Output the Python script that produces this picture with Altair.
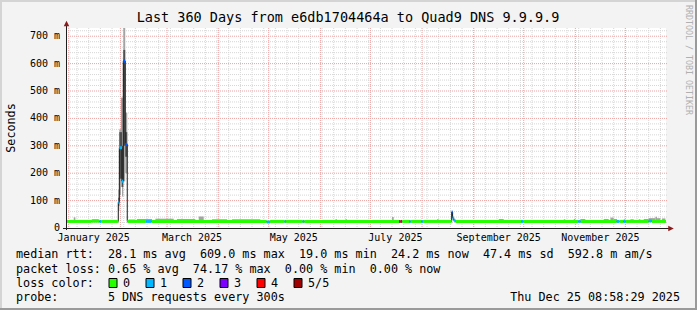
import altair as alt
import pandas as pd

FONT = "DejaVu Sans Mono"
L, T, W, H = 66, 28, 600, 200          # plot area origin/size in page pixels

t_start = "2024-12-30T08:58:29"
t_end = "2025-12-25T08:58:29"
y_top = 0.730

# ---------------- data ----------------
# median rtt step series (start time of each step, seconds, pings lost of 5)
med_time = [
    "2024-12-30T09:00", "2025-01-14T12:00", "2025-01-19T10:00", "2025-01-20T10:00",
    "2025-01-30T18:00", "2025-01-31T09:00", "2025-02-01T23:00", "2025-02-02T18:00",
    "2025-02-03T22:00", "2025-02-05T03:00", "2025-02-16T10:00", "2025-02-19T19:00",
    "2025-04-29T19:00", "2025-05-01T19:00", "2025-05-10T14:00", "2025-05-11T10:00",
    "2025-05-21T10:00", "2025-05-22T10:00", "2025-07-18T05:00", "2025-07-19T05:00",
    "2025-07-20T02:00", "2025-07-24T05:00", "2025-07-25T05:00", "2025-07-31T12:00",
    "2025-08-01T12:00", "2025-08-18T19:00", "2025-08-19T08:00", "2025-08-20T00:00",
    "2025-08-21T00:00", "2025-09-29T10:00", "2025-09-30T19:00", "2025-11-02T17:00",
    "2025-11-04T05:00", "2025-11-25T19:00", "2025-11-27T10:00", "2025-11-29T17:00",
    "2025-12-01T05:00", "2025-12-15T00:00", "2025-12-16T19:00",
]
med_value = [
    0.024, 0.025, 0.024, 0.024,
    0.094, 0.293, 0.171, 0.609,
    0.305, 0.024, 0.024, 0.024,
    0.022, 0.024, 0.024, 0.024,
    0.024, 0.024, 0.024, 0.024,
    0.024, 0.024, 0.024, 0.024,
    0.024, 0.058, 0.037, 0.028,
    0.024, 0.024, 0.024, 0.024,
    0.024, 0.024, 0.024, 0.024,
    0.024, 0.026, 0.024,
]
med_loss = [
    0, 0, 1, 0,
    1, 1, 1, 2,
    2, 0, 1, 0,
    1, 0, 1, 0,
    1, 0, 4, 3,
    0, 1, 0, 1,
    0, 2, 1, 1,
    0, 1, 0, 1,
    0, 1, 0, 1,
    0, 1, 0,
]

# smoke (spread of the pings)
smoke_from = [
    "2025-01-04", "2025-01-15", "2025-01-30T18:00", "2025-01-31T09:00", "2025-02-01T08:00",
    "2025-02-01T23:00", "2025-02-02T18:00", "2025-02-03T22:00", "2025-02-06", "2025-02-11",
    "2025-02-22", "2025-03-07", "2025-03-20", "2025-03-28", "2025-04-09",
    "2025-06-10", "2025-06-16", "2025-07-14", "2025-08-10", "2025-08-18T19:00",
    "2025-09-16", "2025-10-25", "2025-10-31", "2025-11-04", "2025-11-18",
    "2025-11-22", "2025-11-24", "2025-11-30", "2025-12-04", "2025-12-09",
    "2025-12-12", "2025-12-15", "2025-12-19", "2025-12-20", "2025-12-23",
]
smoke_to = [
    "2025-01-05", "2025-01-19", "2025-01-31T09:00", "2025-02-01T08:00", "2025-02-01T23:00",
    "2025-02-02T18:00", "2025-02-03T22:00", "2025-02-05T03:00", "2025-02-10", "2025-02-20",
    "2025-03-05", "2025-03-18", "2025-03-23", "2025-04-06", "2025-04-26",
    "2025-06-11", "2025-06-17", "2025-07-15", "2025-08-11", "2025-08-19T08:00",
    "2025-09-19", "2025-10-26", "2025-11-01", "2025-11-07", "2025-11-21",
    "2025-11-24", "2025-11-26", "2025-12-01", "2025-12-06", "2025-12-10",
    "2025-12-15", "2025-12-19", "2025-12-20", "2025-12-22", "2025-12-25",
]
smoke_low = [
    0.024, 0.024, 0.062, 0.120, 0.150,
    0.115, 0.170, 0.200, 0.024, 0.024,
    0.024, 0.024, 0.024, 0.024, 0.024,
    0.024, 0.024, 0.024, 0.024, 0.030,
    0.024, 0.024, 0.024, 0.024, 0.024,
    0.024, 0.024, 0.024, 0.024, 0.024,
    0.024, 0.024, 0.024, 0.024, 0.024,
]
smoke_high = [
    0.039, 0.032, 0.140, 0.360, 0.476,
    0.476, 0.730, 0.421, 0.031, 0.033,
    0.034, 0.033, 0.042, 0.032, 0.032,
    0.032, 0.032, 0.040, 0.032, 0.062,
    0.033, 0.032, 0.033, 0.033, 0.033,
    0.038, 0.033, 0.032, 0.032, 0.032,
    0.033, 0.036, 0.041, 0.036, 0.035,
]
# dense core of the smoke
core_from = ["2025-01-30T18:00", "2025-01-31T09:00", "2025-02-01T23:00", "2025-02-02T18:00", "2025-02-03T22:00"]
core_to = ["2025-01-31T09:00", "2025-02-01T23:00", "2025-02-02T18:00", "2025-02-03T22:00", "2025-02-05T03:00"]
core_low = [0.080, 0.180, 0.150, 0.300, 0.260]
core_high = [0.110, 0.350, 0.300, 0.650, 0.350]

loss_labels = ["0", "1", "2", "3", "4", "5/5"]
loss_colors = ["#26ff00", "#00b8ff", "#0059ff", "#7e00ff", "#ff0000", "#a10000"]

month_ticks = ["2025-%02d-01" % m for m in range(1, 13)]
month_labels = ["January 2025", "March 2025", "May 2025", "July 2025", "September 2025", "November 2025"]
month_label_at = ["2025-01-16", "2025-03-16", "2025-05-16", "2025-07-16", "2025-09-16", "2025-11-16"]
week_ticks = [d.strftime("%Y-%m-%d") for d in pd.date_range("2025-01-06", "2025-12-22", freq="7D")]
y_major = [0.1, 0.2, 0.3, 0.4, 0.5, 0.6, 0.7]
y_minor = [round(0.02 * i, 3) for i in range(1, 37) if i % 5]
y_tick_values = [0.0, 0.1, 0.2, 0.3, 0.4, 0.5, 0.6, 0.7]
y_tick_labels = ["0\u00a0\u00a0", "100 m", "200 m", "300 m", "400 m", "500 m", "600 m", "700 m"]

title_text = "Last 360 Days from e6db1704464a to Quad9 DNS 9.9.9.9"
legend_rows = [
    "median rtt:  28.1 ms avg  609.0 ms max  19.0 ms min  24.2 ms now  47.4 ms sd  592.8 m am/s",
    "packet loss: 0.65 % avg  74.17 % max  0.00 % min  0.00 % now",
    "loss color:",
    "probe:       5 DNS requests every 300s",
]
stamp = "Thu Dec 25 08:58:29 2025"
watermark = "RRDTOOL / TOBI OETIKER"


def ms(values):
    return [int(pd.Timestamp(v, tz="UTC").timestamp() * 1000) for v in values]


xs = alt.Scale(domain=ms([t_start, t_end]), nice=False, zero=False)
ys = alt.Scale(domain=[0, y_top], nice=False, zero=False)


def X(f):
    return alt.X(f + ":Q", scale=xs, axis=None)


def Y(f):
    return alt.Y(f + ":Q", scale=ys, axis=None)


def text(s, x, y, size, align="left", color="#000000", angle=0):
    kw = dict(align=align, baseline="middle", font=FONT, fontSize=size, color=color)
    if angle:
        kw["angle"] = angle
    return alt.Chart(pd.DataFrame({"s": [s.replace(" ", "\u00a0")]})).mark_text(**kw).encode(
        x=alt.value(x - L), y=alt.value(y - T), text="s:N")


layers = []

GRID = "#d6d6d6"
MGRID = "#eea2a2"

# grid
layers.append(alt.Chart(pd.DataFrame({"t": ms(week_ticks)})).mark_rule(
    color=GRID, strokeDash=[1, 1], strokeWidth=1).encode(
    x=X("t"), y=alt.value(0), y2=alt.value(H)))
layers.append(alt.Chart(pd.DataFrame({"v": y_minor})).mark_rule(
    color=GRID, strokeDash=[1, 1], strokeWidth=1).encode(
    y=Y("v"), x=alt.value(0), x2=alt.value(W + 2)))
layers.append(alt.Chart(pd.DataFrame({"t": ms(month_ticks)})).mark_rule(
    color=MGRID, strokeDash=[1, 1], strokeWidth=1).encode(
    x=X("t"), y=alt.value(0), y2=alt.value(H)))
layers.append(alt.Chart(pd.DataFrame({"v": y_major})).mark_rule(
    color=MGRID, strokeDash=[1, 1], strokeWidth=1).encode(
    y=Y("v"), x=alt.value(0), x2=alt.value(W + 2)))

# smoke
smoke_df = pd.DataFrame({"t": ms(smoke_from), "t2": ms(smoke_to), "lo": smoke_low, "hi": smoke_high})
layers.append(alt.Chart(smoke_df).mark_rect(color="#a4a4a4").encode(
    x=X("t"), x2="t2:Q", y=Y("lo"), y2="hi:Q"))
core_df = pd.DataFrame({"t": ms(core_from), "t2": ms(core_to), "lo": core_low, "hi": core_high})
layers.append(alt.Chart(core_df).mark_rect(color="#505050").encode(
    x=X("t"), x2="t2:Q", y=Y("lo"), y2="hi:Q"))

# median line (thin dark step line) + loss-coloured median
line_df = pd.DataFrame({"t": ms(med_time + [t_end]), "m": med_value + [med_value[-1]]})
layers.append(alt.Chart(line_df).mark_line(
    interpolate="step-after", color="#1a1a1a", strokeWidth=1).encode(x=X("t"), y=Y("m")))
seg_df = pd.DataFrame({"t": ms(med_time), "t2": ms(med_time[1:] + [t_end]),
                       "m": med_value, "loss": med_loss})
layers.append(alt.Chart(seg_df).mark_rule(strokeWidth=3).encode(
    x=X("t"), x2="t2:Q", y=Y("m"),
    color=alt.Color("loss:O", scale=alt.Scale(domain=[0, 1, 2, 3, 4, 5], range=loss_colors), legend=None)))

# axes
layers.append(alt.Chart(pd.DataFrame({"a": [0]})).mark_rule(color="#1e1e1e", strokeWidth=1).encode(
    x=alt.value(0.5), y=alt.value(-5), y2=alt.value(H + 2)))
layers.append(alt.Chart(pd.DataFrame({"a": [0]})).mark_rule(color="#1e1e1e", strokeWidth=1).encode(
    y=alt.value(H + 0.5), x=alt.value(-3), x2=alt.value(W + 3)))
layers.append(alt.Chart(pd.DataFrame({"a": [0]})).mark_point(
    shape="M-1,1L0,-1L1,1Z", filled=True, size=30, color="#8b1a1a", opacity=1).encode(
    x=alt.value(0.5), y=alt.value(-4.5)))
layers.append(alt.Chart(pd.DataFrame({"a": [0]})).mark_point(
    shape="M-1,-1L1,0L-1,1Z", filled=True, size=30, color="#8b1a1a", opacity=1).encode(
    x=alt.value(W + 5), y=alt.value(H + 0.5)))

# tick labels
layers.append(alt.Chart(pd.DataFrame({"v": y_tick_values, "s": y_tick_labels})).mark_text(
    align="right", baseline="middle", font=FONT, fontSize=10, color="#000000").encode(
    y=Y("v"), x=alt.value(60 - L), text="s:N"))
layers.append(alt.Chart(pd.DataFrame({"t": ms(month_label_at), "s": month_labels})).mark_text(
    align="center", baseline="middle", font=FONT, fontSize=10, color="#000000").encode(
    x=X("t"), y=alt.value(238 - T), text="s:N"))

# titles & legend text
layers.append(text(title_text, 348, 18, 13.5, align="center"))
layers.append(text("Seconds", 10.5, 128, 11.75, align="center", angle=270))
layers.append(text(watermark, 688, 60, 8.3, align="center", color="#b0b0b0", angle=90))
for s, yy in zip(legend_rows, [254, 268.5, 282.5, 296.5]):
    layers.append(text(s, 16, yy, 11.75))
layers.append(text(stamp, 680, 296.5, 11.75, align="right"))

# loss colour boxes
box_x = [109 + 37 * i for i in range(len(loss_labels))]
box_df = pd.DataFrame({"x0": [b - L for b in box_x], "x1": [b + 8 - L for b in box_x],
                       "xl": [b + 14 - L for b in box_x], "s": loss_labels, "c": loss_colors})
layers.append(alt.Chart(box_df).mark_rect(stroke="#000000", strokeWidth=1).encode(
    x=alt.X("x0:Q", scale=None), x2="x1:Q",
    y=alt.value(278.5 - T), y2=alt.value(287.5 - T),
    fill=alt.Fill("c:N", scale=None)))
layers.append(alt.Chart(box_df).mark_text(
    align="left", baseline="middle", font=FONT, fontSize=11.75, color="#000000").encode(
    x=alt.X("xl:Q", scale=None), y=alt.value(282.5 - T), text="s:N"))

# frame shading
frame = [
    (0 - L, 697 - L, 1 - T, 1 - T, "#d4d4d4"),
    (1 - L, 1 - L, 0 - T, 310 - T, "#d4d4d4"),
    (0 - L, 697 - L, 309 - T, 309 - T, "#9a9a9a"),
    (696 - L, 696 - L, 0 - T, 310 - T, "#9a9a9a"),
]
for x0, x1, y0, y1, c in frame:
    if x0 == x1:
        enc = dict(x=alt.value(x0), y=alt.value(y0), y2=alt.value(y1))
    else:
        enc = dict(y=alt.value(y0), x=alt.value(x0), x2=alt.value(x1))
    layers.append(alt.Chart(pd.DataFrame({"a": [0]})).mark_rule(color=c, strokeWidth=2).encode(**enc))

chart = alt.layer(*layers).properties(
    width=W, height=H,
    padding={"left": L, "top": T, "right": 697 - L - W, "bottom": 310 - T - H},
    autosize=alt.AutoSizeParams(type="none"),
    background="#f3f3f3",
).configure_view(fill="#ffffff", strokeWidth=0)

chart.save("out.html", embed_options={"renderer": "svg", "actions": False})
